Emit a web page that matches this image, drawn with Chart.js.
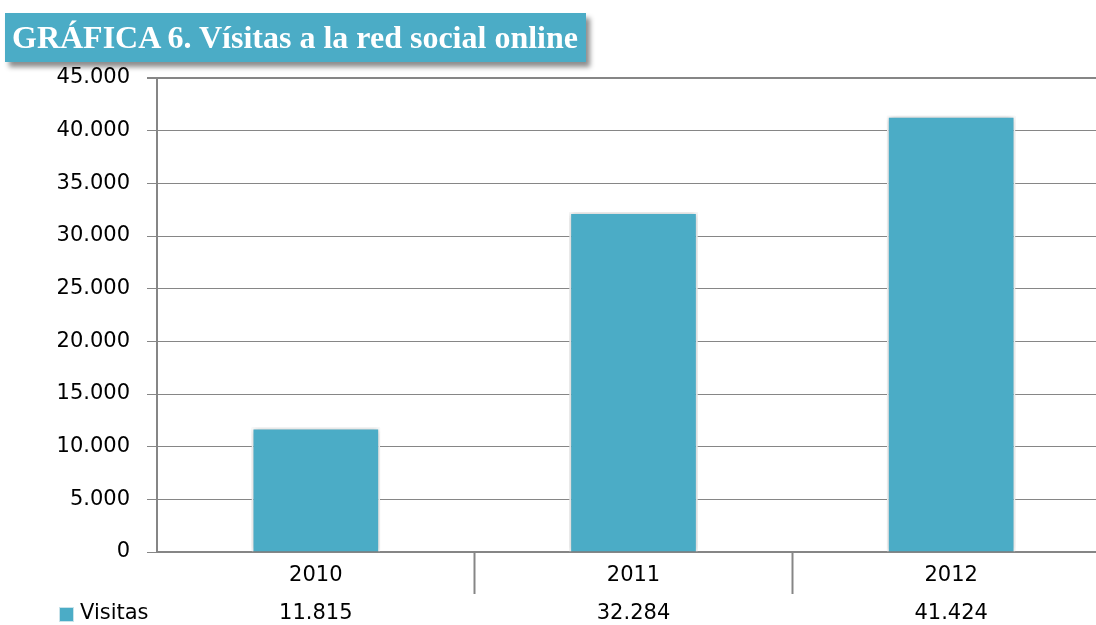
<!DOCTYPE html>
<html lang="es">
<head>
<meta charset="UTF-8">
<title>Visitas a la red social online</title>
<script src="https://cdn.jsdelivr.net/npm/chart.js@4.4.1/dist/chart.umd.min.js"></script>
<style>
  html, body { margin: 0; padding: 0; background: #fff; overflow: hidden; }
  #wrap { position: relative; width: 1110px; height: 625px; }
  #titulo {
    position: absolute; left: 5px; top: 13px; height: 49px; padding: 0 8px 0 7px;
    background: #4bacc6; color: #fff; font: bold 32px "Liberation Serif", serif;
    line-height: 49px; white-space: nowrap; box-shadow: 4px 5px 5px rgba(0,0,0,0.45);
    z-index: 2;
  }
</style>
</head>
<body>
<div id="wrap">
  <div id="titulo">GRÁFICA 6. Vísitas a la red social online</div>
  <canvas id="grafica" width="1110" height="625"></canvas>
</div>
<script>
// datos
const years = ['2010', '2011', '2012'];
const visitas = [11815, 32284, 41424];
const serieNombre = 'Visitas';
const yTicks = [0, 5000, 10000, 15000, 20000, 25000, 30000, 35000, 40000, 45000];

const teal = '#4bacc6';
const gris = '#868686';
const fuente = '"DejaVu Sans", sans-serif';

function miles(n) {
  return String(n).replace(/\B(?=(\d{3})+(?!\d))/g, '.');
}

// sombra suave alrededor de las barras
const sombraBarras = {
  id: 'sombraBarras',
  beforeDatasetsDraw(chart) {
    const ctx = chart.ctx;
    ctx.save();
    ctx.shadowColor = 'rgba(0,0,0,0.28)';
    ctx.shadowBlur = 6;
  },
  afterDatasetsDraw(chart) {
    chart.ctx.restore();
  }
};

// fila de la tabla de datos debajo del eje
const tablaDatos = {
  id: 'tablaDatos',
  afterDraw(chart) {
    const ctx = chart.ctx;
    const x = chart.scales.x;
    ctx.save();
    ctx.font = '21px ' + fuente;
    ctx.fillStyle = '#000';
    ctx.textBaseline = 'middle';
    ctx.textAlign = 'center';
    visitas.forEach((v, i) => {
      ctx.fillText(miles(v), x.getPixelForValue(i), 614);
    });
    // leyenda
    ctx.fillStyle = teal;
    ctx.fillRect(59, 607, 14, 14);
    ctx.strokeStyle = '#c9e3ea';
    ctx.lineWidth = 1;
    ctx.strokeRect(59.5, 607.5, 14, 14);
    ctx.fillStyle = '#000';
    ctx.textAlign = 'left';
    ctx.fillText(serieNombre, 80, 614);
    ctx.restore();
  }
};

new Chart(document.getElementById('grafica'), {
  type: 'bar',
  data: {
    labels: years,
    datasets: [{
      label: serieNombre,
      data: visitas,
      backgroundColor: teal,
      borderColor: '#ffffff',
      borderWidth: 2,
      categoryPercentage: 1,
      barPercentage: 0.405
    }]
  },
  options: {
    responsive: false,
    animation: false,
    layout: { padding: { top: 78, left: 0, right: 0, bottom: 0 } },
    plugins: {
      legend: { display: false },
      tooltip: { enabled: false },
      title: { display: false }
    },
    scales: {
      x: {
        offset: true,
        afterFit(s) { s.height = 73; },
        grid: {
          offset: true,
          drawOnChartArea: false,
          drawTicks: true,
          tickLength: 42,
          tickWidth: 2,
          tickColor: ctx => (ctx.index === 1 || ctx.index === 2) ? gris : 'rgba(0,0,0,0)'
        },
        border: { display: true, color: gris, width: 2 },
        ticks: {
          color: '#000',
          font: { family: fuente, size: 21 },
          padding: -31,
          maxRotation: 0
        }
      },
      y: {
        min: 0,
        max: 45000,
        afterFit(s) { s.width = 157; },
        afterBuildTicks(s) { s.ticks = yTicks.map(v => ({ value: v })); },
        grid: {
          color: gris,
          lineWidth: ctx => (ctx.index === yTicks.length - 1 ? 2 : 1),
          drawTicks: true,
          tickLength: 10
        },
        border: { display: true, color: gris, width: 2 },
        ticks: {
          color: '#000',
          font: { family: fuente, size: 21 },
          padding: 17,
          callback: v => miles(v)
        }
      }
    }
  },
  plugins: [sombraBarras, tablaDatos]
});
</script>
</body>
</html>
